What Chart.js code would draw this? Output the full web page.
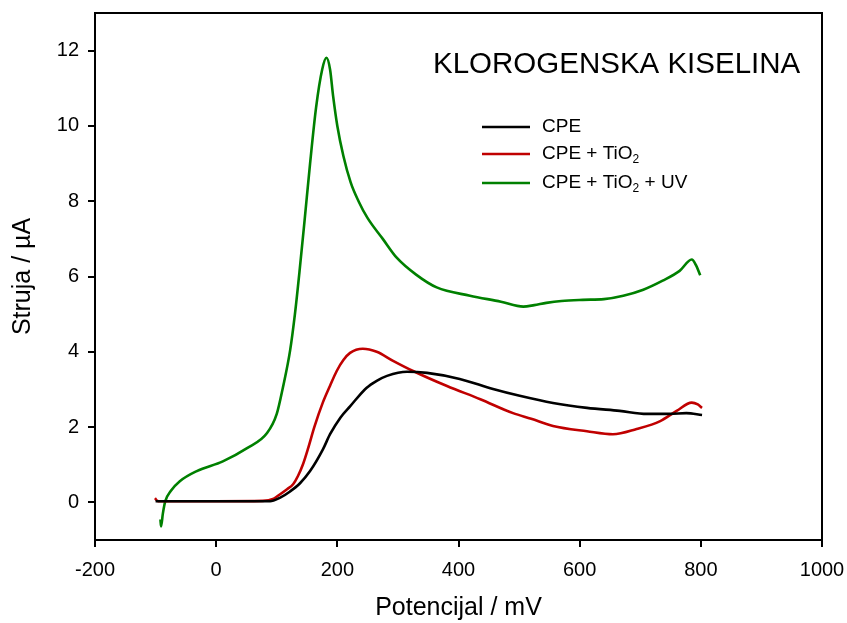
<!DOCTYPE html>
<html>
<head>
<meta charset="utf-8">
<script src="https://cdn.jsdelivr.net/npm/chart.js@4.4.1/dist/chart.umd.min.js"></script>
<style>
  html, body { margin: 0; padding: 0; background: #fff; }
  #wrap { width: 847px; height: 623px; }
</style>
</head>
<body>
<div id="wrap"><canvas id="chart" width="847" height="623"></canvas></div>
<script>
const chartTitle = "KLOROGENSKA KISELINA";
const seriesNames = ["CPE", "CPE + TiO₂", "CPE + TiO₂ + UV"];
const seriesColors = ["#000000", "#c00000", "#008000"];
const xTicks = [-200, 0, 200, 400, 600, 800, 1000];
const yTicks = [0, 2, 4, 6, 8, 10, 12];

// CPE
const cpeX = [-100, 0, 89, 105, 122, 138, 155, 176, 188, 205, 221, 248, 265, 282, 315, 348, 402, 457, 501, 556, 612, 666, 711, 749, 776, 802];
const cpeY = [0.03, 0.03, 0.03, 0.12, 0.29, 0.5, 0.83, 1.4, 1.81, 2.25, 2.55, 3.04, 3.23, 3.36, 3.47, 3.44, 3.28, 3.01, 2.83, 2.64, 2.51, 2.43, 2.35, 2.35, 2.37, 2.32];

// CPE + TiO2
const tioX = [-101, -97, -93, 0, 77, 95, 105, 117, 127, 135, 143, 152, 162, 176, 188, 199, 210, 221, 242, 265, 292, 325, 381, 436, 490, 520, 556, 612, 655, 694, 733, 760, 785, 795, 802];
const tioY = [0.11, 0.04, 0.03, 0.03, 0.04, 0.1, 0.21, 0.35, 0.48, 0.7, 1.0, 1.45, 2.0, 2.65, 3.1, 3.49, 3.78, 3.97, 4.08, 4.0, 3.76, 3.49, 3.09, 2.74, 2.37, 2.22, 2.03, 1.89, 1.81, 1.95, 2.16, 2.43, 2.65, 2.6, 2.51];

// CPE + TiO2 + UV
const uvX = [-92, -91, -88, -84, -75, -60, -32, 11, 51, 84, 100, 110, 122, 130, 138, 146, 155, 165, 175, 182, 188, 193, 200, 210, 222, 235, 250, 275, 298, 330, 364, 419, 470, 507, 525, 545, 570, 605, 640, 672, 705, 737, 765, 785, 792, 799];
const uvY = [-0.45, -0.64, -0.3, 0.03, 0.3, 0.56, 0.83, 1.09, 1.44, 1.84, 2.35, 3.04, 4.03, 5.0, 6.2, 7.5, 9.0, 10.5, 11.5, 11.81, 11.5, 10.8, 10.0, 9.2, 8.5, 8.0, 7.55, 7.0, 6.5, 6.05, 5.71, 5.49, 5.33, 5.2, 5.24, 5.3, 5.35, 5.38, 5.4, 5.49, 5.65, 5.89, 6.15, 6.45, 6.3, 6.03];

const toPoints = (xs, ys) => xs.map((x, i) => ({ x: x, y: ys[i] }));
const seriesData = [toPoints(cpeX, cpeY), toPoints(tioX, tioY), toPoints(uvX, uvY)];

const FONT = "'Liberation Sans', Arial, sans-serif";

// draw text where "₂" is a small lowered 2
function drawSubText(ctx, text, x, y, size) {
  const parts = text.split("₂");
  let cx = x;
  parts.forEach((p, i) => {
    ctx.font = size + "px " + FONT;
    ctx.fillText(p, cx, y);
    cx += ctx.measureText(p).width;
    if (i < parts.length - 1) {
      ctx.font = Math.round(size * 0.65) + "px " + FONT;
      ctx.fillText("2", cx, y + size * 0.3);
      cx += ctx.measureText("2").width;
    }
  });
}

const decorations = {
  id: "decorations",
  afterDraw(chart) {
    const { ctx, chartArea } = chart;
    ctx.save();
    ctx.strokeStyle = "#000";
    ctx.lineWidth = 2;
    ctx.beginPath();
    ctx.moveTo(chartArea.left, chartArea.top);
    ctx.lineTo(chartArea.right, chartArea.top);
    ctx.lineTo(chartArea.right, chartArea.bottom);
    ctx.stroke();

    ctx.fillStyle = "#000";
    ctx.textBaseline = "middle";
    ctx.textAlign = "left";
    ctx.font = "29.5px " + FONT;
    ctx.fillText(chartTitle, 433, 65);

    const rows = [127, 154, 183];
    chart.data.datasets.forEach((ds, i) => {
      ctx.strokeStyle = ds.borderColor;
      ctx.lineWidth = 2.5;
      ctx.beginPath();
      ctx.moveTo(482, rows[i]);
      ctx.lineTo(530, rows[i]);
      ctx.stroke();
      ctx.fillStyle = "#000";
      drawSubText(ctx, ds.label, 542, rows[i], 19);
    });
    ctx.restore();
  }
};

const noPad = s => { s.paddingLeft = 0; s.paddingRight = 0; s.paddingTop = 0; s.paddingBottom = 0; };

new Chart(document.getElementById("chart"), {
  type: "line",
  data: {
    datasets: seriesNames.map((name, i) => ({
      label: name,
      data: seriesData[i],
      borderColor: seriesColors[i],
      borderWidth: 2.6,
      pointRadius: 0,
      fill: false,
      cubicInterpolationMode: "monotone"
    }))
  },
  options: {
    responsive: false,
    animation: false,
    layout: { padding: { top: 13, right: 25, left: 0, bottom: 0 } },
    plugins: { legend: { display: false }, tooltip: { enabled: false } },
    scales: {
      x: {
        type: "linear",
        min: -200,
        max: 1000,
        afterBuildTicks: s => { s.ticks = xTicks.map(v => ({ value: v })); },
        afterFit: s => { s.height = 83; noPad(s); },
        border: { color: "#000", width: 2 },
        grid: { drawOnChartArea: false, color: "#000", lineWidth: 2, tickLength: 7 },
        ticks: { color: "#000", font: { family: FONT, size: 20 }, padding: 11, maxRotation: 0, callback: v => String(v) },
        title: { display: true, text: "Potencijal / mV", color: "#000", font: { family: FONT, size: 25 }, padding: { top: 0, bottom: 0 } }
      },
      y: {
        min: -1,
        max: 13,
        afterBuildTicks: s => { s.ticks = yTicks.map(v => ({ value: v })); },
        afterFit: s => { s.width = 95; noPad(s); },
        border: { color: "#000", width: 2 },
        grid: { drawOnChartArea: false, color: "#000", lineWidth: 2, tickLength: 7 },
        ticks: { color: "#000", font: { family: FONT, size: 20 }, padding: 9, callback: v => String(v) },
        title: { display: true, text: "Struja / µA", color: "#000", font: { family: FONT, size: 25 }, padding: { top: 8, bottom: 8 } }
      }
    }
  },
  plugins: [decorations]
});
</script>
</body>
</html>
